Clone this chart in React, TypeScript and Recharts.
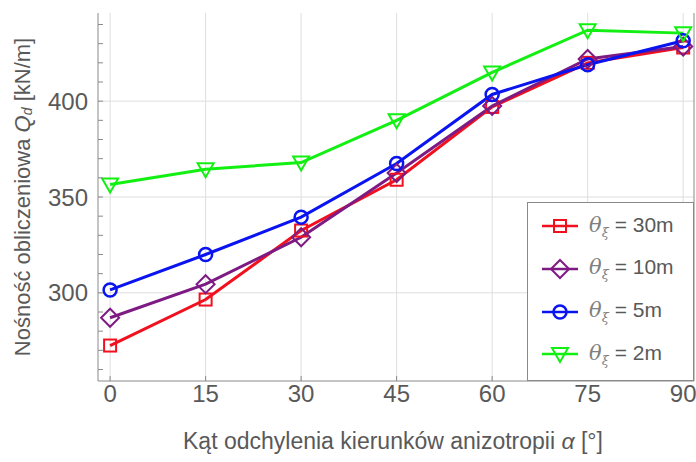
import React from "react"
import { CartesianGrid, Label, Line, LineChart, XAxis, YAxis } from "recharts"

const angles = [0, 15, 30, 45, 60, 75, 90]
const theta30 = [272.5, 296.5, 332.5, 359, 397, 420, 428]
const theta10 = [287, 304.5, 329, 362.5, 397.5, 422, 428.5]
const theta5 = [301.5, 320, 339.5, 367.5, 403.5, 419, 431.5]
const theta2 = [356.5, 364.5, 368, 390, 415, 437, 435.5]

const xTicks = [0, 15, 30, 45, 60, 75, 90]
const yTicks = [260, 270, 280, 290, 300, 310, 320, 330, 340, 350, 360, 370, 380, 390, 400, 410, 420, 430, 440]
const yLabelTicks = [300, 350, 400]

const seriesInfo = [
    { key: "t30", label: "30m", color: "#f0101e", shape: "square" },
    { key: "t10", label: "10m", color: "#7e1a84", shape: "diamond" },
    { key: "t5", label: "5m", color: "#0a14f0", shape: "circle" },
    { key: "t2", label: "2m", color: "#12f012", shape: "triangle" }
]

const chartData = angles.map((a, i) => ({
    angle: a,
    t30: theta30[i],
    t10: theta10[i],
    t5: theta5[i],
    t2: theta2[i]
}))

const TEXT = "#595959"
const FONT = "'Liberation Sans', Arial, sans-serif"
const FRAME = "#8a8a8a"

function Marker({ cx, cy, shape, color }: { cx: number; cy: number; shape: string; color: string }) {
    if (cx == null || cy == null) return null
    if (shape === "square")
        return <rect x={cx - 6} y={cy - 6} width={12} height={12} fill="none" stroke={color} strokeWidth={2} />
    if (shape === "diamond")
        return <polygon points={`${cx},${cy - 9} ${cx + 9},${cy} ${cx},${cy + 9} ${cx - 9},${cy}`} fill="none" stroke={color} strokeWidth={2} />
    if (shape === "circle") return <circle cx={cx} cy={cy} r={6.5} fill="none" stroke={color} strokeWidth={2.5} />
    return <polygon points={`${cx - 8},${cy - 6} ${cx + 8},${cy - 6} ${cx},${cy + 8}`} fill="none" stroke={color} strokeWidth={2} />
}

function LegendBox() {
    return (
        <div
            style={{
                position: "absolute",
                left: 527,
                top: 202,
                background: "#fff",
                border: `1.5px solid ${FRAME}`,
                width: 167,
                height: 179,
                boxSizing: "border-box",
                padding: "2px 0 0 14px",
                fontFamily: FONT,
                color: TEXT,
                fontSize: 21
            }}
        >
            {seriesInfo.map(s => (
                <div key={s.key} style={{ display: "flex", alignItems: "center", height: 42.7 }}>
                    <svg width={36} height={24} style={{ marginRight: 11 }}>
                        <line x1={0} y1={12} x2={36} y2={12} stroke={s.color} strokeWidth={2.5} />
                        <Marker cx={18} cy={12} shape={s.shape} color={s.color} />
                    </svg>
                    <span>
                        <i style={{ fontFamily: "'DejaVu Serif', serif", color: "#808080" }}>θ</i>
                        <sub style={{ fontFamily: "'DejaVu Serif', serif", fontStyle: "italic", fontSize: 13, color: "#808080" }}>ξ</sub>
                        {" = " + s.label}
                    </span>
                </div>
            ))}
        </div>
    )
}

const leftTick = (props: any) => {
    const { x, y, payload } = props
    return (
        <g>
            <line x1={x + 10} y1={y} x2={x + 15} y2={y} stroke={FRAME} strokeWidth={1} />
            {yLabelTicks.includes(payload.value) && (
                <text x={x} y={y} dy={8.5} textAnchor="end" fill={TEXT} fontSize={24} fontFamily={FONT}>
                    {payload.value}
                </text>
            )}
        </g>
    )
}

const rightTick = (props: any) => {
    const { x, y } = props
    return <line x1={x} y1={y} x2={x - 5} y2={y} stroke={FRAME} strokeWidth={1} />
}

const bottomTick = (props: any) => {
    const { x, y, payload } = props
    return (
        <g>
            <line x1={x} y1={381} x2={x} y2={376} stroke={FRAME} strokeWidth={1} />
            <text x={x} y={y} dy={21} textAnchor="middle" fill={TEXT} fontSize={24} fontFamily={FONT}>
                {payload.value}
            </text>
        </g>
    )
}

const topTick = (props: any) => {
    const { x } = props
    return <line x1={x} y1={13} x2={x} y2={18} stroke={FRAME} strokeWidth={1} />
}

const YTitle = (props: any) => {
    const vb = props.viewBox
    const cy = vb.y + vb.height / 2
    return (
        <text
            x={22}
            y={cy}
            transform={`rotate(-90, 22, ${cy})`}
            textAnchor="middle"
            dominantBaseline="central"
            fill={TEXT}
            fontSize={22}
            fontFamily={FONT}
        >
            Nośność obliczeniowa <tspan fontStyle="italic">Q</tspan>
            <tspan fontStyle="italic" fontSize={14} dy={5}>d</tspan>
            <tspan dy={-5}>{"  [kN/m]"}</tspan>
        </text>
    )
}

const XTitle = (props: any) => {
    const vb = props.viewBox
    const cx = vb.x + vb.width / 2
    return (
        <text x={393} y={449} textAnchor="middle" fill={TEXT} fontSize={23} fontFamily={FONT}>
            Kąt odchylenia kierunków anizotropii <tspan fontStyle="italic">α</tspan> [°]
        </text>
    )
}

export default function App() {
    return (
        <div style={{ position: "absolute", left: 0, top: 0, width: 696, height: 462, background: "#fff" }}>
            <LineChart width={696} height={462} data={chartData} margin={{ top: 13, right: 0, bottom: 0, left: 0 }}>
                <CartesianGrid
                    stroke="#dedede"
                    strokeWidth={1}
                    horizontalValues={yLabelTicks}
                    verticalValues={xTicks}
                    yAxisId="l"
                    xAxisId="b"
                />
                <XAxis
                    xAxisId="b"
                    dataKey="angle"
                    type="number"
                    domain={[-1.9, 91.7]}
                    ticks={xTicks}
                    height={81}
                    tickSize={0}
                    tickMargin={0}
                    stroke={FRAME}
                    tick={bottomTick}
                    interval={0}
                >
                    <Label content={XTitle} />
                </XAxis>
                <XAxis
                    xAxisId="t"
                    orientation="top"
                    dataKey="angle"
                    type="number"
                    domain={[-1.9, 91.7]}
                    ticks={xTicks}
                    height={0}
                    tickSize={0}
                    stroke={FRAME}
                    tick={topTick}
                    interval={0}
                />
                <YAxis
                    yAxisId="l"
                    type="number"
                    domain={[254, 446]}
                    ticks={yTicks}
                    width={98}
                    tickSize={0}
                    tickMargin={10}
                    stroke={FRAME}
                    tick={leftTick}
                    interval={0}
                >
                    <Label content={YTitle} />
                </YAxis>
                <YAxis
                    yAxisId="r"
                    orientation="right"
                    type="number"
                    domain={[254, 446]}
                    ticks={yTicks}
                    width={2}
                    tickSize={0}
                    tickMargin={0}
                    stroke={FRAME}
                    tick={rightTick}
                    interval={0}
                />
                {seriesInfo.map(s => (
                    <Line
                        key={s.key}
                        xAxisId="b"
                        yAxisId="l"
                        type="linear"
                        dataKey={s.key}
                        stroke={s.color}
                        strokeWidth={3}
                        isAnimationActive={false}
                        dot={(p: any) => <Marker key={`${s.key}-${p.index}`} cx={p.cx} cy={p.cy} shape={s.shape} color={s.color} />}
                        activeDot={false}
                    />
                ))}
            </LineChart>
            <LegendBox />
        </div>
    )
}
